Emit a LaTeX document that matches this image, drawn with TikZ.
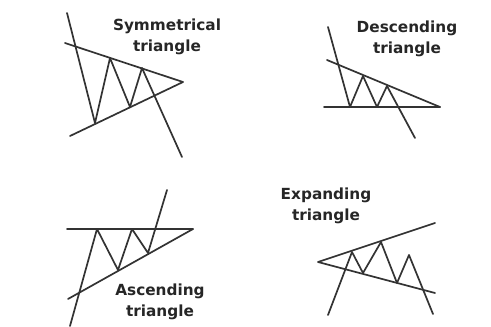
\documentclass[tikz,border=0pt]{standalone}
\usepackage{fontspec}
\setmainfont{DejaVu Sans}
\begin{document}
\begin{tikzpicture}[x=1pt,y=-1pt,
  ln/.style={draw=black!80, line width=1.7pt, line cap=round, line join=round},
  lbl/.style={font=\bfseries\fontsize{15.3}{20.5}\selectfont, text=black!85, align=center, inner sep=0pt}]
\useasboundingbox[fill=white] (0,0) rectangle (491,327);
% Symmetrical
\coordinate (s1) at (65,43); \coordinate (s2) at (183,82); \coordinate (s3) at (70,136);
\draw[ln] (s1) -- (s2) -- (s3);
\draw[ln] (67,13) -- (95,123) -- (110,58) -- (130,107) -- (142,68) -- (182,157);
\node[lbl] (ts) at (167,37) {Symmetrical\\triangle};
% Descending
\coordinate (d1) at (327,60); \coordinate (d2) at (440,107); \coordinate (d3) at (324,107);
\draw[ln] (d1) -- (d2); \draw[ln] (d3) -- (d2);
\draw[ln] (328,27) -- (350,107) -- (363,76) -- (377,107) -- (387,86) -- (415,138);
\node[lbl] (td) at (407,39) {Descending\\triangle};
% Ascending
\coordinate (a1) at (67,229); \coordinate (a2) at (193,229); \coordinate (a3) at (68,299);
\draw[ln] (a1) -- (a2); \draw[ln] (a3) -- (a2);
\draw[ln] (70,326) -- (97,229) -- (118,270) -- (132,229) -- (148,253) -- (167,190);
\node[lbl] (ta) at (160,302) {Ascending\\triangle};
% Expanding
\coordinate (e0) at (318,262); \coordinate (e1) at (435,223); \coordinate (e2) at (435,293);
\draw[ln] (e1) -- (e0) -- (e2);
\draw[ln] (328,315) -- (352,252) -- (363,273) -- (381,242) -- (397,283) -- (409,255) -- (433,314);
\node[lbl] (te) at (326,206) {Expanding\\triangle};
\end{tikzpicture}
\end{document}
